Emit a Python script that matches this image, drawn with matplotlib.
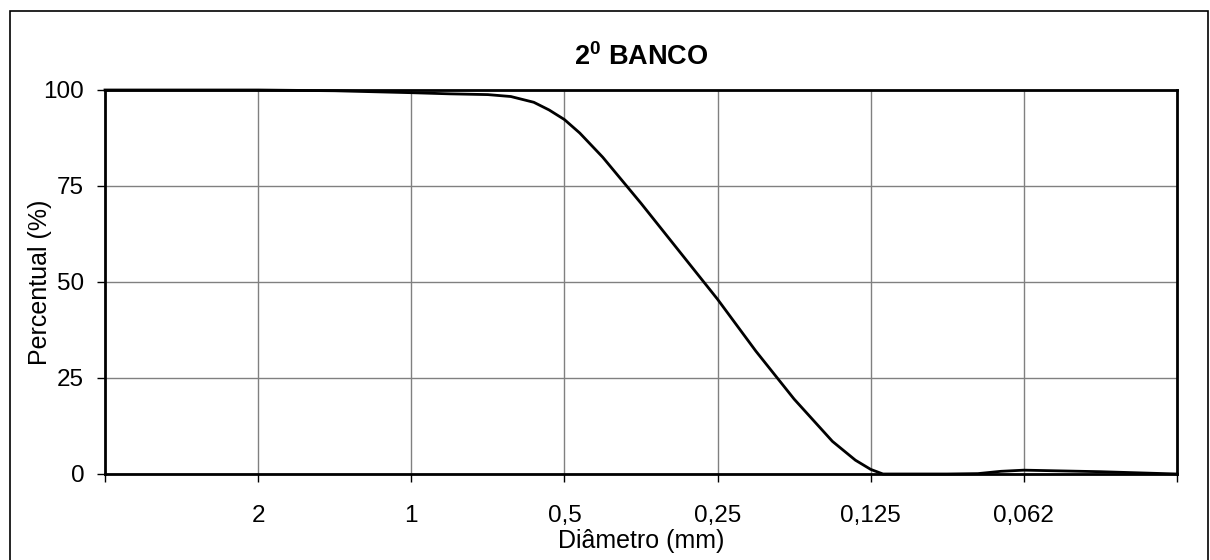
import numpy as np
import matplotlib
matplotlib.use('Agg')
import matplotlib.pyplot as plt
from matplotlib.patches import Rectangle

plt.rcParams['font.family'] = ['Liberation Sans', 'DejaVu Sans']
plt.rcParams['mathtext.fontset'] = 'custom'
plt.rcParams['mathtext.bf'] = 'Liberation Sans:bold'
plt.rcParams['mathtext.rm'] = 'Liberation Sans'

# grain size in phi units (phi = -log2(d mm)), percentage
phi = [-2, -1, -0.5, 0, 0.25, 0.5, 0.65, 0.8, 0.9, 1, 1.1, 1.25, 1.5, 1.75,
       2, 2.25, 2.5, 2.75, 2.9, 3, 3.08, 3.25, 3.5, 3.7, 3.85, 4, 4.5, 5]
percent = [100, 100, 99.8, 99.3, 99.0, 98.8, 98.3, 96.8, 94.8, 92.3, 88.8,
           82.5, 70.5, 58, 45.5, 32, 19.5, 8.5, 3.6, 1.2, 0, 0, 0, 0.1, 0.7,
           1.0, 0.6, 0]

tick_labels = ['2', '1', '0,5', '0,25', '0,125', '0,062']
tick_phi = [-1, 0, 1, 2, 3, 4]
y_ticks = [0, 25, 50, 75, 100]

fig = plt.figure(figsize=(12.1, 5.6), dpi=100)
ax = fig.add_axes([105/1210, 1-474/560, (1177-105)/1210, (474-90)/560])

# outer chart border
fig.patches.append(Rectangle((10/1210, -0.02), (1208-10)/1210, 1-11/560+0.02,
                             transform=fig.transFigure, fill=False,
                             edgecolor='black', lw=1.2))

ax.plot(phi, percent, color='black', lw=2, zorder=3, clip_on=False)

ax.set_xlim(-2, 5)
ax.set_ylim(0, 100)
ax.set_xticks(tick_phi)
ax.set_xticklabels(tick_labels)
ax.set_xticks([-2, 5], minor=True)
ax.set_yticks(y_ticks)
ax.grid(True, which='major', color='#808080', lw=1)
ax.tick_params(axis='both', which='both', direction='out', length=6, width=1,
               labelsize=17.5, color='black')
ax.tick_params(axis='x', pad=16)
ax.tick_params(axis='y', pad=9)
for s in ax.spines.values():
    s.set_linewidth(2)
    s.set_color('black')
ax.set_axisbelow(True)

ax.set_xlabel('Diâmetro (mm)', fontsize=18, labelpad=2)
ax.set_ylabel('Percentual (%)', fontsize=18)
ax.yaxis.set_label_coords(-0.049, 0.5)
ax.set_title(r'$\mathbf{2^0}$ BANCO', fontsize=19.5, fontweight='bold', pad=18)

fig.savefig('out.png', dpi=100)
